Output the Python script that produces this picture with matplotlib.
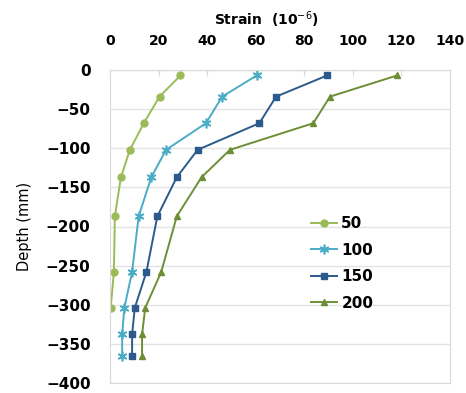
import numpy as np
import matplotlib.pyplot as plt

# depth of each gauge (mm)
depth = [-7, -34, -68, -102, -137, -187, -258, -304, -338, -366]

# strain (10^-6) for each load
s50 = [29, 20.4, 13.9, 8.2, 4.5, 2.0, 1.6, 0.3, -3.0, -3.5]
s100 = [60.4, 46.2, 39.5, 23.1, 17.0, 11.8, 9.1, 5.9, 5.0, 5.0]
s150 = [89.4, 68.4, 61.5, 36.1, 27.5, 19.5, 15.0, 10.2, 9.1, 9.1]
s200 = [118.2, 90.6, 83.7, 49.4, 37.7, 27.5, 21.1, 14.5, 13.2, 13.2]

labels = ["50", "100", "150", "200"]
colors = ["#9BBB59", "#4BACC6", "#2C5A8C", "#6E8E36"]
markers = ["o", (6, 2, 0), "s", "^"]

fig = plt.figure(figsize=(4.66, 3.93), dpi=100)
ax = fig.add_axes([110/466, 1-383/393, 340/466, 313/393])

for s, lab, c, m in zip([s50, s100, s150, s200], labels, colors, markers):
    star = not isinstance(m, str)
    ax.plot(s, depth, color=c, marker=m, markersize=7 if star else 5, lw=1.4,
            label=lab, markeredgewidth=1.2 if star else 1)

ax.set_xlim(0, 140)
ax.set_ylim(-400, 0)
ax.set_xticks(np.arange(0, 141, 20))
ax.set_yticks(np.arange(-400, 1, 50))
ax.xaxis.tick_top()
ax.xaxis.set_label_position("top")
ax.tick_params(axis="x", direction="in", length=4, color="#D9D9D9", pad=16,
               labelsize=10)
ax.tick_params(axis="y", length=0, pad=14, labelsize=11)
for t in ax.get_xticklabels() + ax.get_yticklabels():
    t.set_fontweight("bold")
ax.grid(axis="y", color="#E3E3E3", lw=1)
ax.set_axisbelow(True)
for sp in ax.spines.values():
    sp.set_color("#D9D9D9")

ax.set_xlabel("Strain  (10$^{-6}$)", fontsize=10, fontweight="bold")
ax.xaxis.set_label_coords(0.46, 1.145)
ax.set_ylabel("Depth (mm)", fontsize=10.5, labelpad=10)

ax.legend(loc="upper left", bbox_to_anchor=(0.55, 0.577), frameon=False,
          prop={"weight": "bold", "size": 11}, handlelength=1.7,
          handletextpad=0.3, labelspacing=0.75)

plt.savefig("out.png", dpi=100)
